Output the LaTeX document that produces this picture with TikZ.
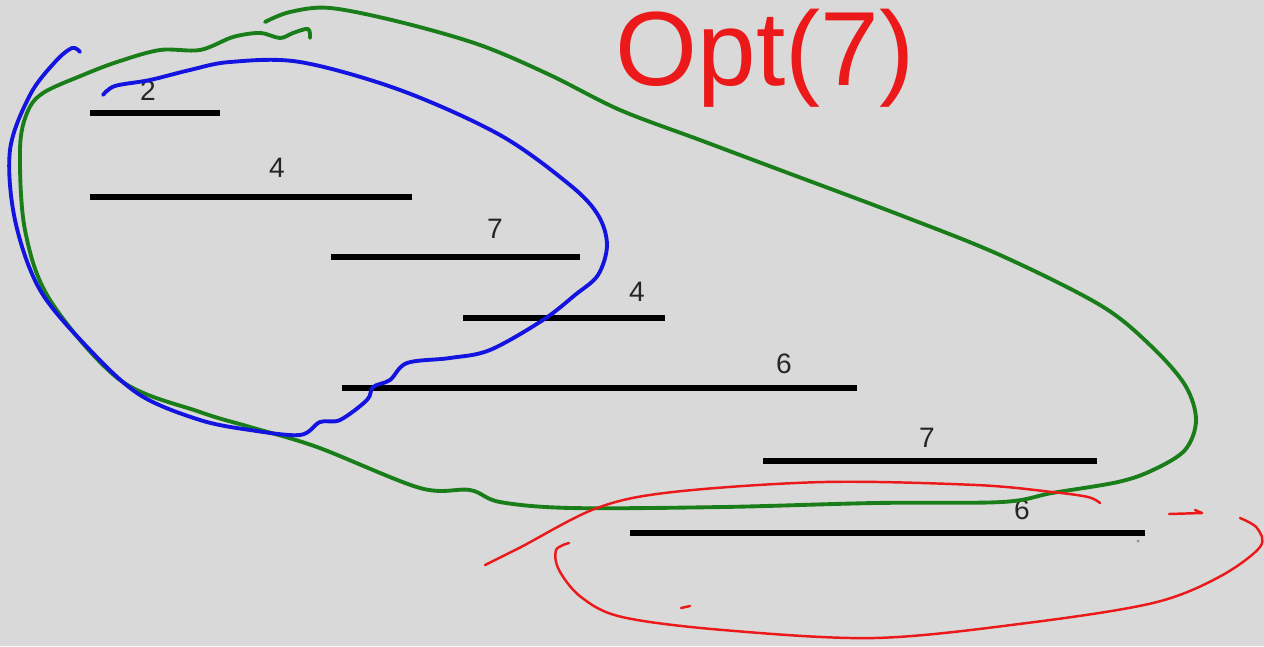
\documentclass[tikz,border=0pt]{standalone}
\usepackage{fontspec}
\setmainfont{Liberation Sans}
\usepackage{tikz}
\usetikzlibrary{positioning}
\definecolor{boardgray}{RGB}{217,217,217}
\definecolor{penred}{RGB}{235,25,25}
\definecolor{pengreen}{RGB}{25,125,25}
\definecolor{penblue}{RGB}{20,20,225}

\begin{document}
\begin{tikzpicture}[
    x=0.02cm, y=-0.02cm,
    bar/.style={line width=3.4pt, black},
    num/.style={font=\fontsize{16}{16}\selectfont, text=black!85, inner sep=0pt},
    bluepen/.style={penblue, line width=2.2pt, line cap=round, line join=round},
    greenpen/.style={pengreen, line width=2.2pt, line cap=round, line join=round},
    redpen/.style={penred, line width=1.4pt, line cap=round, line join=round},
]
\fill[boardgray] (0,0) rectangle (1264,646);
\useasboundingbox (0,0) rectangle (1264,646);

\foreach \xa/\xb/\y/\xl/\yl/\w [count=\i] in {
    90/220/113/148/91/2, 90/412/197/277/168/4, 331/580/257/495/229/7,
    463/665/318/637/292/4, 342/857/388/784/364/6, 763/1097/461/927/438/7,
    630/1145/533/1022/510/6}
{
  \draw[bar] (\xa,\y) -- (\xb,\y);
  \node[num] (w\i) at (\xl,\yl) {\w};
}

\draw[greenpen] plot[smooth, tension=0.55] coordinates {
    (310,38) (308,29) (293,33) (280,38) (260,33) (233,37) (200,50) (160,50)
    (117,62) (83,75) (43,93) (27,113) (20,150) (25,230) (50,300) (120,380)
    (200,412) (250,427) (317,447) (420,488) (470,490) (500,502) (571,508)
    (723,507) (875,503) (1002,502) (1052,493) (1118,482) (1153,470)
    (1185,450) (1196,420) (1185,385) (1150,345) (1100,305) (1000,255)
    (900,215) (780,170) (700,140) (620,110) (550,75) (480,45) (400,22)
    (330,8) (290,12) (265,22)};

\draw[bluepen] plot[smooth, tension=0.55] coordinates {
    (103,95) (115,86) (150,80) (190,70) (230,62) (300,62) (400,90) (500,135)
    (570,185) (598,215) (607,245) (598,275) (575,295) (543,320) (490,350)
    (450,358) (407,363) (390,380) (373,387) (367,400) (340,420) (320,422)
    (300,435) (250,430) (200,420) (140,395) (90,350) (40,290) (15,220)
    (10,150) (30,95) (55,62) (72,48) (80,52)};

\draw[redpen] plot[smooth, tension=0.55] coordinates {
    (485,565) (521,547) (597,508) (673,492) (824,482) (976,485) (1052,492)
    (1088,497) (1100,503)};
\draw[redpen] plot[smooth, tension=0.55] coordinates {
    (569,543) (556,550) (559,570) (581,597) (622,617) (723,630) (875,638)
    (1027,623) (1153,603) (1219,577) (1260,547) (1257,528) (1240,518)};
\draw[redpen] (1169,514) -- (1202,513);
\draw[redpen] (1195,510) -- (1202,513);
\draw[redpen] (681,608) -- (690,606);
\fill[black!45] (1138,541) circle (1.5);

\node[penred, font=\fontsize{60}{60}\selectfont, inner sep=0pt] (optlabel)
    at (765,58) {Opt(7)};
\end{tikzpicture}
\end{document}
